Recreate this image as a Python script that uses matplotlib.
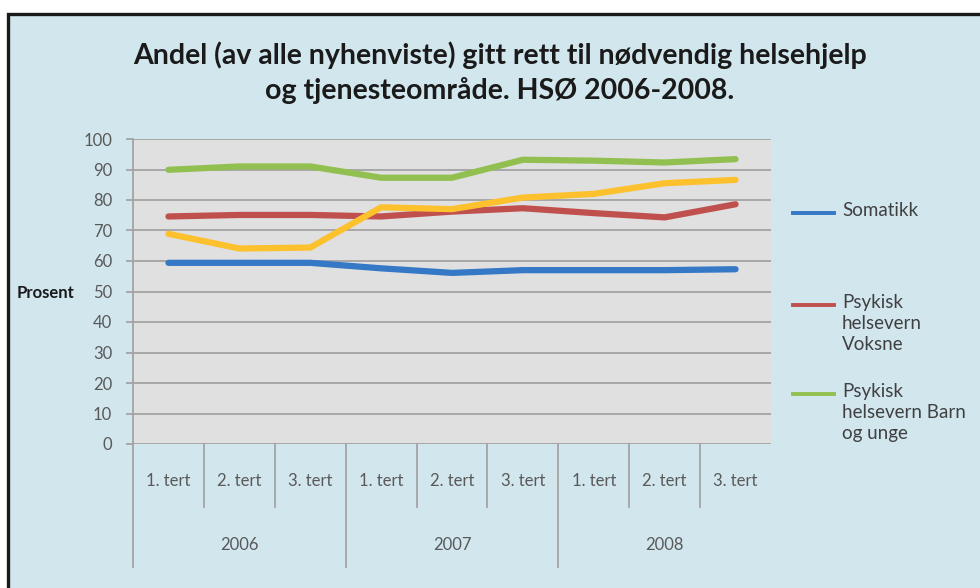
import matplotlib.pyplot as plt
from matplotlib.patches import Rectangle
from matplotlib.lines import Line2D
import matplotlib.transforms as mtransforms

plt.rcParams['font.family'] = ['Lato', 'DejaVu Sans']

# data
tertialer = ['1. tert', '2. tert', '3. tert'] * 3
aar = ['2006', '2007', '2008']
somatikk = [59.4, 59.4, 59.4, 57.6, 56.1, 57.0, 57.0, 57.0, 57.3]
psyk_voksne = [74.6, 75.1, 75.1, 74.6, 76.2, 77.3, 75.7, 74.3, 78.6]
psyk_barn = [89.9, 91.0, 91.0, 87.3, 87.3, 93.2, 92.9, 92.3, 93.4]
serie4 = [68.9, 64.1, 64.4, 77.6, 77.0, 80.8, 82.0, 85.5, 86.6]
legend_labels = ['Somatikk', 'Psykisk\nhelsevern\nVoksne', 'Psykisk\nhelsevern Barn\nog unge']
tittel = ['Andel (av alle nyhenviste) gitt rett til nødvendig helsehjelp',
          'og tjenesteområde. HSØ 2006-2008.']

bg = '#d2e6ee'
colors = ['#3478c6', '#c0504d', '#92c050', '#fdc12e']

W, H = 980, 588
fig = plt.figure(figsize=(W / 100, H / 100), dpi=100, facecolor='white')

# outer frame
fig.patches.append(Rectangle((7.5 / W, -0.05), 1.1, 1 - 13.5 / H + 0.05,
                             transform=fig.transFigure, facecolor=bg,
                             edgecolor='#1a1a1a', linewidth=2.4, zorder=-5))

ax = fig.add_axes([133 / W, 1 - 444 / H, 638 / W, 305 / H])
ax.set_facecolor('#e0e0e0')
ax.set_xlim(0, 9)
ax.set_ylim(0, 100)
ax.set_yticks(range(0, 101, 10))
ax.grid(axis='y', color='#a3a3a3', linewidth=1.3)
ax.set_axisbelow(True)
for s in ['top', 'right', 'bottom']:
    ax.spines[s].set_visible(False)
ax.spines['left'].set_color('#a3a3a3')
ax.spines['left'].set_linewidth(1.3)
ax.tick_params(axis='y', length=5, color='#a3a3a3', width=1.3, pad=10,
               labelsize=12, labelcolor='#595959')
ax.set_xticks([])

xs = [i + 0.5 for i in range(9)]
series = [somatikk, psyk_voksne, psyk_barn, serie4]
for k in range(4):
    ax.plot(xs, series[k], color=colors[k], linewidth=4.5,
            solid_joinstyle='round', solid_capstyle='round', zorder=3)

# category axis (two levels)
tr = mtransforms.blended_transform_factory(ax.transData, ax.transAxes)
axis_c = '#a3a3a3'
for i, lab in enumerate(tertialer):
    ax.text(i + 0.5, -37 / 305, lab, transform=tr, ha='center', va='center',
            fontsize=12, color='#595959')
for i in range(9):
    y0 = -123 / 305 if i % 3 == 0 else -63 / 305
    ax.add_line(Line2D([i, i], [0, y0], transform=tr, color=axis_c,
                       linewidth=1.3, clip_on=False))
for j, a in enumerate(aar):
    ax.text(3 * j + 1.5, -101 / 305, a, transform=tr, ha='center', va='center',
            fontsize=12, color='#595959')

# titles and axis label
fig.text(500 / W, 1 - 55 / H, tittel[0], ha='center', va='center',
         fontsize=20.5, fontweight='bold', color='#1a1a1a')
fig.text(500 / W, 1 - 90 / H, tittel[1], ha='center', va='center',
         fontsize=20.5, fontweight='bold', color='#1a1a1a')
fig.text(17 / W, 1 - 293 / H, 'Prosent', ha='left', va='center',
         fontsize=12, fontweight='bold', color='#1a1a1a')

# legend
leg_y = [213, 305, 394]
for k, lab in enumerate(legend_labels):
    y = 1 - leg_y[k] / H
    fig.add_artist(Line2D([793 / W, 834 / W], [y, y], transform=fig.transFigure,
                          color=colors[k], linewidth=2.8))
    fig.text(842 / W, y + 11 / H, lab, ha='left', va='top', fontsize=13.5,
             color='#404040', linespacing=1.3)

fig.savefig('out.png', dpi=100, facecolor='white')
